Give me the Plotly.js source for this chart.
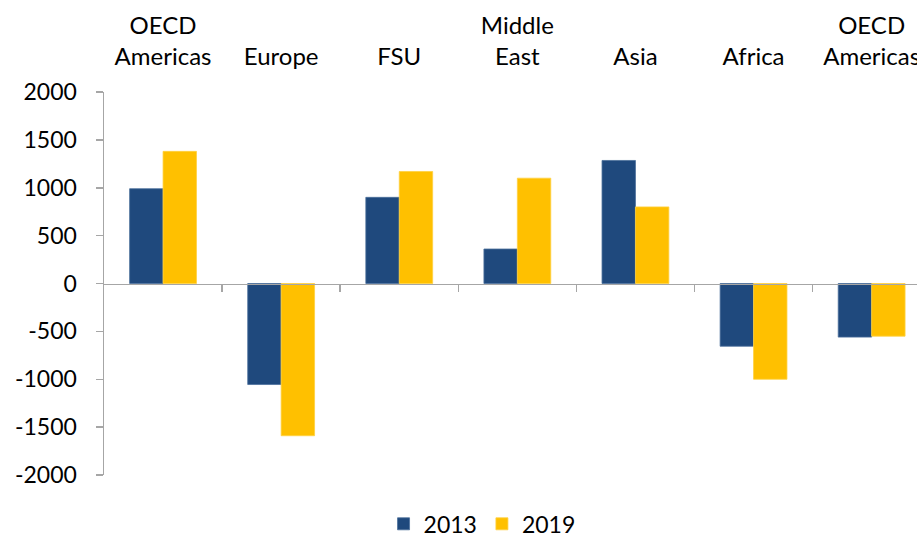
<!DOCTYPE html>
<html>
<head>
<meta charset="utf-8">
<script src="https://cdn.plot.ly/plotly-3.0.1.min.js"></script>
<style>html,body{margin:0;padding:0;background:#fff;}#chart{width:917px;height:539px;}</style>
</head>
<body>
<div id="chart"></div>
<script>
const categories = ["OECD<br>Americas", "Europe", "FSU", "Middle<br>East", "Asia", "Africa", "OECD<br>Americas"];
const series2013 = [990, -1055, 900, 360, 1285, -655, -560];
const series2019 = [1380, -1590, 1170, 1100, 800, -1000, -550];
const yTicks = [2000, 1500, 1000, 500, 0, -500, -1000, -1500, -2000];

const idx = categories.map((_, i) => i);
const boundaries = categories.slice(1).map((_, i) => i + 0.5);
const fontFam = "Lato, 'Open Sans', sans-serif";
const axisGrey = "#A6A6A6";
const xRange = [-0.5, -0.5 + 813 / 118.1];

const traces = [
  {type: "bar", name: "2013", x: idx, y: series2013, marker: {color: "#1F497D", line: {color: "#4A6E9A", width: 0.8}}},
  {type: "bar", name: "2019", x: idx, y: series2019, marker: {color: "#FFC000", line: {color: "#FFD040", width: 0.8}}},
  {type: "scatter", mode: "lines", x: [], y: [], xaxis: "x2", yaxis: "y", showlegend: false, hoverinfo: "skip"}
];

const layout = {
  width: 917, height: 539,
  margin: {l: 104, r: 0, t: 92, b: 64, autoexpand: false},
  paper_bgcolor: "#fff", plot_bgcolor: "#fff",
  font: {family: fontFam, size: 23, color: "#000"},
  barmode: "group", bargap: 0.434, bargroupgap: 0,
  showlegend: true,
  legend: {orientation: "h", x: 0.465, xanchor: "center", xref: "paper",
           y: 0.068, yanchor: "top", yref: "container",
           font: {family: fontFam, size: 23, color: "#000"}, itemwidth: 30},
  xaxis: {
    range: xRange, side: "top", tickmode: "array", tickvals: idx, ticktext: categories,
    showline: false, showgrid: false, zeroline: false,
    ticks: "outside", ticklen: 16, tickcolor: "rgba(0,0,0,0)",
    ticklabeloverflow: "allow",
    tickfont: {family: fontFam, size: 24, color: "#000"}, fixedrange: true
  },
  xaxis2: {
    overlaying: "x", anchor: "free", position: 0.5, side: "bottom",
    range: xRange, tickmode: "array", tickvals: boundaries,
    showticklabels: false, ticks: "outside", ticklen: 7, tickwidth: 1.5, tickcolor: axisGrey,
    showline: true, linecolor: axisGrey, linewidth: 1.5, showgrid: false, zeroline: false
  },
  yaxis: {
    range: [-2000, 2000], tickmode: "array", tickvals: yTicks, ticktext: yTicks.map(String),
    showline: true, linecolor: axisGrey, linewidth: 1.5,
    ticks: "outside", ticklen: 7, tickwidth: 1.5, tickcolor: axisGrey,
    ticklabelstandoff: 14,
    showgrid: false, zeroline: false,
    tickfont: {family: fontFam, size: 23, color: "#000"}, fixedrange: true
  }
};

Plotly.newPlot("chart", traces, layout, {displayModeBar: false, staticPlot: true});
</script>
</body>
</html>
